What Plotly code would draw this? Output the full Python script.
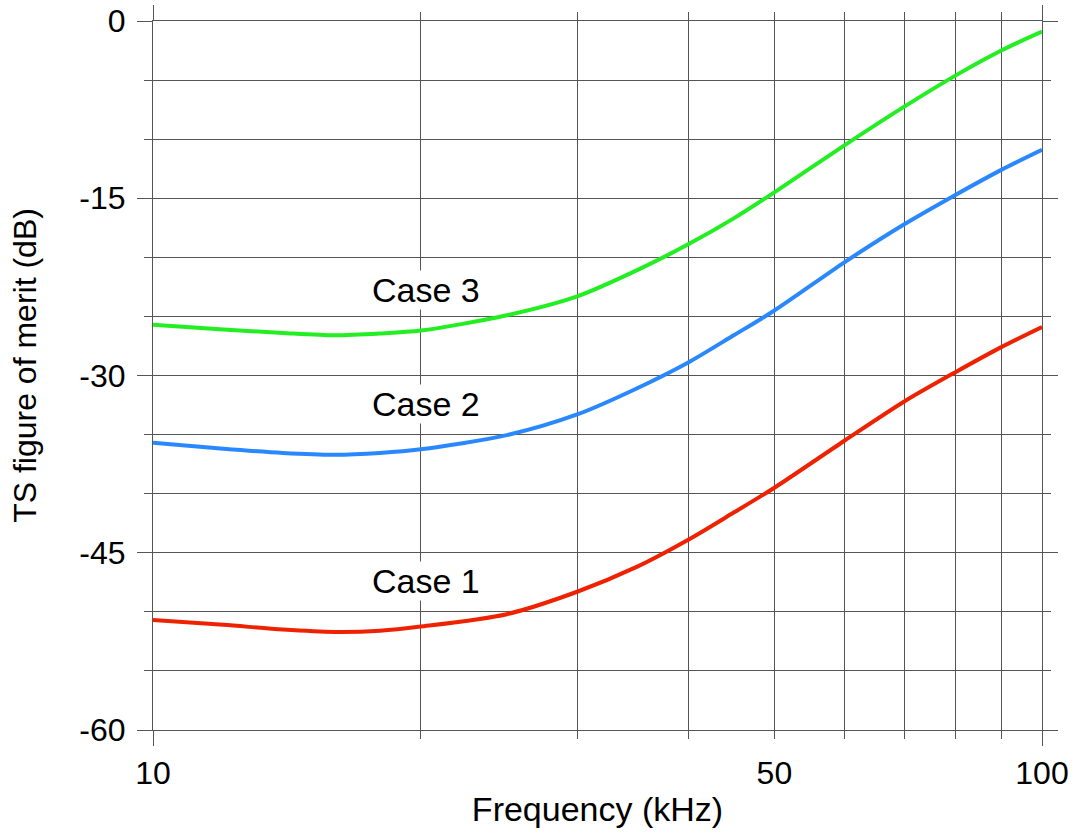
import numpy as np
import plotly.graph_objects as go

freq = [10, 12, 14, 16, 18, 20, 25, 30, 35, 40, 45, 50, 60, 70, 80, 90, 100]
case1 = [-50.7, -51.1, -51.5, -51.7, -51.6, -51.25, -50.2, -48.3, -46.2, -43.9, -41.6, -39.5, -35.5, -32.2, -29.7, -27.6, -25.9]
case2 = [-35.7, -36.2, -36.55, -36.7, -36.55, -36.25, -35.05, -33.3, -31.1, -28.9, -26.6, -24.5, -20.4, -17.2, -14.7, -12.6, -10.9]
case3 = [-25.7, -26.1, -26.4, -26.6, -26.45, -26.2, -24.9, -23.3, -21.1, -18.9, -16.7, -14.5, -10.5, -7.25, -4.6, -2.5, -0.9]

series_names = ["Case 1", "Case 2", "Case 3"]
series_colors = ["#ee2200", "#2a88ff", "#22ee22"]
label_freq = [20.3, 20.3, 20.3]
label_db = [-47.4, -32.4, -22.8]

x_major = [10, 100]
x_minor = [20, 30, 40, 50, 60, 70, 80, 90]
x_label_extra = [50]
y_major = [-60, -45, -30, -15, 0]

FONT = "Liberation Sans, Arial, sans-serif"
GRID = "#555555"

fig = go.Figure()
for name, ys, col in zip(series_names, [case1, case2, case3], series_colors):
    fig.add_trace(go.Scatter(x=freq, y=ys, mode="lines", name=name,
                             line=dict(color=col, width=4, shape="spline", smoothing=0.8),
                             showlegend=False))

# dummy trace for the secondary x axis (only carries the "50" label)
fig.add_trace(go.Scatter(x=[10, 100], y=[None, None], xaxis="x2", showlegend=False,
                         hoverinfo="skip", mode="lines"))

for name, fx, fy in zip(series_names, label_freq, label_db):
    fig.add_annotation(x=np.log10(fx), y=fy, text=name, showarrow=False,
                       font=dict(size=34, color="black", family=FONT),
                       bgcolor="white", borderpad=0, xref="x", yref="y")

# y-axis title as annotation (positioned like the reference)
fig.add_annotation(x=-0.144, y=0.515, xref="paper", yref="paper",
                   text="TS figure of merit (dB)", textangle=-90, showarrow=False,
                   xanchor="center", yanchor="middle",
                   font=dict(size=32, color="black", family=FONT))

fig.update_layout(
    width=1073, height=836,
    margin=dict(l=153, r=31, t=21, b=106),
    paper_bgcolor="white", plot_bgcolor="white",
    font=dict(family=FONT, size=32, color="black"),
    xaxis=dict(
        type="log", range=[1, 2], automargin=False,
        tickmode="array", tickvals=x_major, ticktext=[str(v) for v in x_major],
        ticks="outside", ticklen=15, tickcolor=GRID, tickwidth=1,
        showgrid=True, gridcolor=GRID, gridwidth=1,
        showline=True, linecolor=GRID, linewidth=1, mirror="ticks",
        zeroline=False,
        minor=dict(tickmode="array", tickvals=x_minor, ticks="outside", ticklen=8,
                   tickcolor=GRID, showgrid=True, gridcolor=GRID, gridwidth=1),
        title=dict(text="Frequency (kHz)", font=dict(size=34), standoff=6),
        tickfont=dict(size=32),
    ),
    xaxis2=dict(
        type="log", range=[1, 2], overlaying="x", anchor="y", side="bottom",
        automargin=False,
        tickmode="array", tickvals=x_label_extra, ticktext=[str(v) for v in x_label_extra],
        ticks="outside", ticklen=15, tickcolor="rgba(0,0,0,0)",
        showgrid=False, showline=False, zeroline=False,
        tickfont=dict(size=32),
    ),
    yaxis=dict(
        range=[-60, 0], automargin=False,
        tickmode="array", tickvals=y_major, ticktext=[str(v) for v in y_major],
        ticks="outside", ticklen=15, tickcolor=GRID, tickwidth=1,
        showgrid=True, gridcolor=GRID, gridwidth=1,
        showline=True, linecolor=GRID, linewidth=1, mirror="ticks",
        zeroline=False,
        minor=dict(tickmode="linear", tick0=-60, dtick=5, ticks="outside", ticklen=8,
                   tickcolor=GRID, showgrid=True, gridcolor=GRID, gridwidth=1),
        tickfont=dict(size=32),
        ticklabelstandoff=5,
    ),
)

fig.write_html("out.html", config={"displayModeBar": False},
               post_script="document.body.style.margin='0';document.body.style.padding='0';")
